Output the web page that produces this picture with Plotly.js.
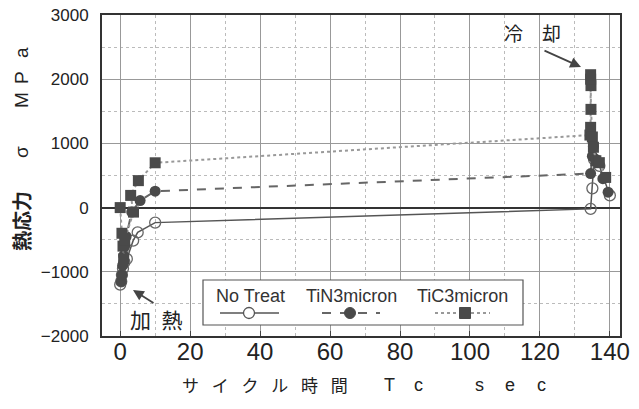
<!DOCTYPE html>
<html><head><meta charset="utf-8">
<script src="https://cdn.plot.ly/plotly-3.0.1.min.js"></script>
<style>body{margin:0;background:#fff}#c{width:639px;height:409px}</style>
</head><body><div id="c"></div>
<script>
const seriesNames = ['No Treat', 'TiN3micron', 'TiC3micron'];
const noTreatX = [0, 0.3, 0.5, 0.8, 1.2, 1.9, 3.7, 5, 10, 134.5, 135, 135.5, 137, 140];
const noTreatY = [-1200, -1150, -1050, -950, -850, -800, -515, -386, -234, -20, 300, 750, 650, 190];
const tinX = [0.3, 0.5, 0.7, 1, 1.3, 1.7, 3.3, 5.7, 10, 134.5, 135, 135.3, 136, 138, 139.5];
const tinY = [-1150, -1050, -900, -750, -600, -450, -70, 110, 255, 530, 800, 950, 750, 450, 240];
const ticX = [0, 0.5, 0.8, 1, 1.3, 3.8, 3, 5.2, 10, 134.3, 134.5, 134.6, 134.5, 134.5, 134.6, 135, 135.3, 136, 137, 138.8];
const ticY = [0, -400, -600, -800, -500, -70, 190, 420, 698, 1130, 1250, 1900, 2000, 2070, 1530, 1100, 940, 730, 700, 470];
const xTickVals = [0, 20, 40, 60, 80, 100, 120, 140];
const yTickVals = [-2000, -1000, 0, 1000, 2000, 3000];

const traces = [
  {x: noTreatX, y: noTreatY, name: seriesNames[0], mode: 'lines+markers',
   line: {color: '#555', width: 1.5},
   marker: {symbol: 'circle-open', size: 11, color: '#666', line: {width: 1.3}}},
  {x: tinX, y: tinY, name: seriesNames[1], mode: 'lines+markers',
   line: {color: '#666', width: 2, dash: 'dash'},
   marker: {symbol: 'circle', size: 11, color: '#4a4a4a'}},
  {x: ticX, y: ticY, name: seriesNames[2], mode: 'lines+markers',
   line: {color: '#999', width: 2, dash: 'dot'},
   marker: {symbol: 'square', size: 11, color: '#4a4a4a'}}
];

const L = 102, R = 620, T = 15, B = 336;
const px = v => (v - L) / (R - L);
const py = v => (B - v) / (B - T);

const shapes = [
  {type: 'rect', xref: 'paper', yref: 'paper', x0: px(203), x1: px(523), y0: py(325), y1: py(280),
   line: {color: '#555', width: 1.2}, fillcolor: '#fff'},
  {type: 'line', xref: 'paper', yref: 'paper', x0: px(220), x1: px(279), y0: py(313), y1: py(313), line: {color: '#555', width: 1.5}},
  {type: 'circle', xref: 'paper', yref: 'paper', x0: px(243.5), x1: px(254.5), y0: py(318.5), y1: py(307.5), line: {color: '#555', width: 1.3}, fillcolor: '#fff'},
  {type: 'line', xref: 'paper', yref: 'paper', x0: px(322), x1: px(380), y0: py(313), y1: py(313), line: {color: '#666', width: 2, dash: 'dash'}},
  {type: 'circle', xref: 'paper', yref: 'paper', x0: px(344.5), x1: px(355.5), y0: py(318.5), y1: py(307.5), line: {color: '#4a4a4a', width: 1}, fillcolor: '#4a4a4a'},
  {type: 'line', xref: 'paper', yref: 'paper', x0: px(435), x1: px(490), y0: py(313), y1: py(313), line: {color: '#999', width: 2, dash: 'dot'}},
  {type: 'rect', xref: 'paper', yref: 'paper', x0: px(459.5), x1: px(470.5), y0: py(318.5), y1: py(307.5), line: {color: '#4a4a4a', width: 1}, fillcolor: '#4a4a4a'}
];

function lf() { return {family: 'Liberation Sans, Arial, sans-serif', size: 18, color: '#333'}; }
function ann(x, y, text, font, extra) {
  return Object.assign({xref: 'paper', yref: 'paper', x: px(x), y: py(y), text: text, showarrow: false,
    xanchor: 'center', yanchor: 'middle', font: font}, extra || {});
}
const cjk = s => ({family: 'Noto Sans CJK JP', size: s, color: '#222'});
const lat = s => ({family: 'Liberation Sans, Arial, sans-serif', size: s, color: '#222'});

const annotations = [
  ann(250, 296, seriesNames[0], lf()),
  ann(351, 296, seriesNames[1], lf()),
  ann(462, 296, seriesNames[2], lf()),
  ann(532, 32, '冷\u3000却', cjk(19)),
  ann(156, 319, '加\u2002熱', cjk(21)),
  // y axis title pieces (rotated)
  ann(21, 221, '<b>熱応力</b>', cjk(20), {textangle: -90}),
  ann(21, 152, 'σ', lat(19), {textangle: -90}),
  ann(21, 100, 'M', lat(19), {textangle: -90}),
  ann(21, 78, 'P', lat(19), {textangle: -90}),
  ann(21, 53, 'a', lat(19), {textangle: -90}),
  // x axis title pieces
  ann(265, 385, 'サ\u2002\u2005イ\u2002\u2005ク\u2002\u2005ル\u2002\u2005時\u2002\u2005間', cjk(17)),
  ann(389, 385, 'T', lat(18)),
  ann(418, 385, 'c', lat(18)),
  ann(479, 385, 's', lat(18)),
  ann(510, 385, 'e', lat(18)),
  ann(541, 385, 'c', lat(18)),
  {xref: 'paper', yref: 'paper', x: px(581), y: py(67), ax: px(543), ay: py(50), axref: 'paper', ayref: 'paper',
   text: '', showarrow: true, arrowhead: 2, arrowsize: 1.2, arrowwidth: 1.8, arrowcolor: '#444'},
  {xref: 'paper', yref: 'paper', x: px(133), y: py(290), ax: px(155), ay: py(304), axref: 'paper', ayref: 'paper',
   text: '', showarrow: true, arrowhead: 2, arrowsize: 1.2, arrowwidth: 1.8, arrowcolor: '#444'}
];

const layout = {
  width: 639, height: 409,
  margin: {l: L, r: 639 - R, t: T, b: 409 - B},
  paper_bgcolor: '#fff', plot_bgcolor: '#fff',
  showlegend: false,
  xaxis: {range: [-5.2, 142.9], tickvals: xTickVals,
    showgrid: true, gridcolor: '#999', gridwidth: 1, zeroline: false,
    minor: {dtick: 10, tick0: 0, showgrid: true, gridcolor: '#bbb', griddash: 'dot'},
    ticks: 'inside', ticklen: 5, tickcolor: '#444', ticklabelstandoff: -7,
    showline: true, linecolor: '#333', linewidth: 2, mirror: true,
    tickfont: {family: 'Liberation Sans, Arial, sans-serif', size: 24, color: '#222'}},
  yaxis: {range: [-2000, 3000], tickvals: yTickVals,
    showgrid: true, gridcolor: '#999', gridwidth: 1,
    zeroline: true, zerolinecolor: '#333', zerolinewidth: 2,
    minor: {dtick: 500, tick0: 0, showgrid: true, gridcolor: '#bbb', griddash: 'dot'},
    showline: true, linecolor: '#333', linewidth: 2, mirror: true,
    ticks: '', ticklabelstandoff: 8,
    tickfont: {family: 'Liberation Sans, Arial, sans-serif', size: 17, color: '#222'}},
  shapes: shapes,
  annotations: annotations
};

Plotly.newPlot('c', traces, layout, {displayModeBar: false, staticPlot: true});
</script>
</body></html>
